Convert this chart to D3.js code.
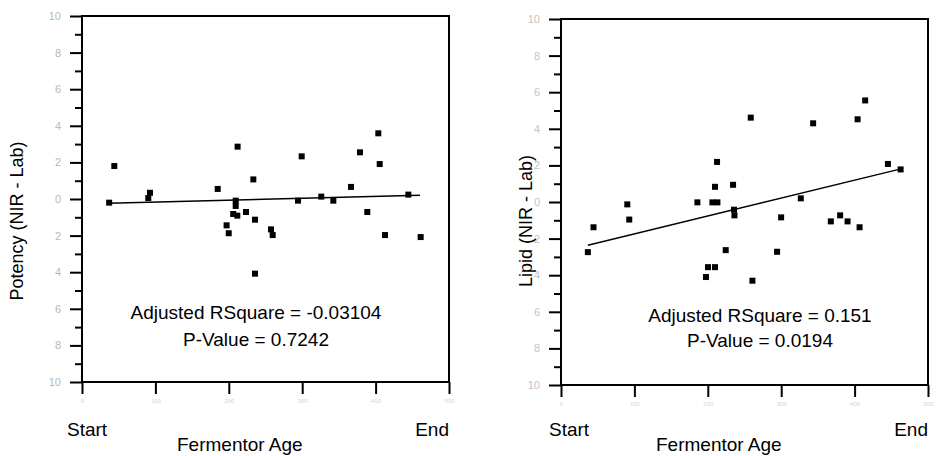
<!DOCTYPE html>
<html>
<head>
<meta charset="utf-8">
<script src="https://cdn.jsdelivr.net/npm/d3@7"></script>
<style>
  html, body { margin: 0; padding: 0; background: #fff; }
  svg { display: block; font-family: "Liberation Sans", Arial, sans-serif; }
</style>
</head>
<body>
<svg id="chart" width="937" height="456"></svg>
<script>
// Fermentor age axis (hours) and NIR - Lab difference axis
const xTickValues = [0, 100, 200, 300, 400, 500];
const yMajorTicks = [-10, -8, -6, -4, -2, 0, 2, 4, 6, 8, 10];
const yMinorTicks = [-9, -7, -5, -3, -1, 1, 3, 5, 7, 9];

// Potency: [fermentor age, NIR - Lab]
const potencyAge = [37, 44, 92.6, 90.3, 184.9, 212, 233.4, 209.4, 209.4, 206,
  211.6, 223.4, 197, 199.9, 235.7, 257.5, 259.8, 235.7, 299.3, 294.3,
  326, 342.4, 366.5, 378.7, 388.7, 403.7, 405.6, 412.8, 444.6, 461.4];
const potencyDiff = [-0.20, 1.80, 0.34, 0.05, 0.55, 2.86, 1.07, -0.09, -0.38, -0.82,
  -0.91, -0.71, -1.44, -1.87, -1.13, -1.66, -1.97, -4.08, 2.33, -0.09,
  0.13, -0.09, 0.66, 2.55, -0.71, 3.59, 1.91, -1.97, 0.24, -2.08];
// fitted regression line end points [age, diff]
const potencyFit = [[36.8, -0.23], [460.4, 0.20]];
const potencyStats = ["Adjusted RSquare = -0.03104", "P-Value = 0.7242"];

// Lipid: [fermentor age, NIR - Lab]
const lipidAge = [36.6, 44.3, 90.3, 93, 185.8, 206.3, 213.1, 209.8, 212.6, 234.4,
  235.7, 236.3, 224.4, 200.3, 209.8, 197.5, 258.5, 260.8, 294.4, 299.9,
  326.7, 343.5, 367.6, 380.3, 390.4, 404.1, 406.8, 414.4, 445.4, 462.7];
const lipidDiff = [-2.74, -1.38, -0.13, -0.96, -0.02, -0.02, -0.02, 0.83, 2.19, 0.94,
  -0.42, -0.73, -2.63, -3.56, -3.56, -4.10, 4.61, -4.30, -2.72, -0.84,
  0.20, 4.30, -1.06, -0.73, -1.06, 4.52, -1.38, 5.55, 2.08, 1.78];
const lipidFit = [[36.6, -2.36], [463.1, 1.81]];
const lipidStats = ["Adjusted RSquare = 0.151", "P-Value = 0.0194"];

const xTitle = "Fermentor Age";
const xEnds = ["Start", "End"];

const W = 367, H = 366;

const panels = [
  { ox: 82, oy: 16, title: "Potency (NIR - Lab)", titleX: 23, age: potencyAge, diff: potencyDiff,
    fit: potencyFit, stats: potencyStats, statX: 174, statY: [319, 346], startX: -15, tickFill: "#b8b8b8" },
  { ox: 561, oy: 19, title: "Lipid (NIR - Lab)", titleX: 532, age: lipidAge, diff: lipidDiff,
    fit: lipidFit, stats: lipidStats, statX: 199, statY: [322, 347], startX: -12, tickFill: "#c4c4c4" }
];

const svg = d3.select("#chart");
const FONT = "'Liberation Sans', Arial, sans-serif";
const INK = "#000";

panels.forEach(p => {
  const x = d3.scaleLinear().domain([0, 500]).range([0, W]);
  const y = d3.scaleLinear().domain([-10, 10]).range([H, 0]);
  const g = svg.append("g").attr("transform", `translate(${p.ox},${p.oy})`);

  // y axis: major ticks with faint labels, minor ticks between
  const yAxis = g.append("g");
  yAxis.call(d3.axisLeft(y).tickValues(yMajorTicks).tickSize(12).tickSizeOuter(0).tickPadding(9)
    .tickFormat(d => Math.abs(d)));
  yAxis.append("g").call(d3.axisLeft(y).tickValues(yMinorTicks).tickSize(7).tickSizeOuter(0).tickFormat(""));
  yAxis.selectAll(".domain").remove();
  yAxis.selectAll("line").attr("stroke", INK).attr("stroke-width", 2);
  yAxis.selectAll("text").attr("fill", p.tickFill).attr("font-size", 11).attr("font-family", FONT);

  // x axis ticks with faint labels
  const xAxis = g.append("g").attr("transform", `translate(0,${H})`)
    .call(d3.axisBottom(x).tickValues(xTickValues).tickSize(12).tickSizeOuter(0).tickPadding(5));
  xAxis.select(".domain").remove();
  xAxis.selectAll("line").attr("stroke", INK).attr("stroke-width", 2);
  xAxis.selectAll("text").attr("fill", "#d4d4d4").attr("font-size", 6).attr("font-family", FONT);

  // plot frame
  g.append("rect")
    .attr("x", 0).attr("y", 0).attr("width", W).attr("height", H)
    .attr("fill", "none").attr("stroke", INK).attr("stroke-width", 2);

  // regression line
  g.append("path")
    .datum(p.fit)
    .attr("d", d3.line().x(d => x(d[0])).y(d => y(d[1])))
    .attr("fill", "none").attr("stroke", "#000").attr("stroke-width", 1.5);

  // points
  const pts = p.age.map((a, i) => [a, p.diff[i]]);
  g.append("g").selectAll("rect").data(pts).join("rect")
    .attr("x", d => x(d[0]) - 3).attr("y", d => y(d[1]) - 3)
    .attr("width", 6).attr("height", 6).attr("fill", "#000");

  // statistics
  p.stats.forEach((s, i) => {
    g.append("text").attr("x", p.statX).attr("y", p.statY[i] - p.oy)
      .attr("text-anchor", "middle").attr("font-family", FONT).attr("font-size", 19)
      .attr("fill", "#000").text(s);
  });

  // x axis end labels and title
  g.append("text").attr("x", p.startX).attr("y", 436 - p.oy)
    .attr("font-family", FONT).attr("font-size", 19).attr("fill", "#000").text(xEnds[0]);
  g.append("text").attr("x", W).attr("y", 436 - p.oy).attr("text-anchor", "end")
    .attr("font-family", FONT).attr("font-size", 19).attr("fill", "#000").text(xEnds[1]);
  g.append("text").attr("x", 95).attr("y", 451 - p.oy)
    .attr("font-family", FONT).attr("font-size", 19).attr("fill", "#000").text(xTitle);

  // y title
  svg.append("text")
    .attr("transform", `translate(${p.titleX},221) rotate(-90)`)
    .attr("text-anchor", "middle").attr("font-family", FONT).attr("font-size", 18)
    .attr("fill", "#000").text(p.title);
});
</script>
</body>
</html>
